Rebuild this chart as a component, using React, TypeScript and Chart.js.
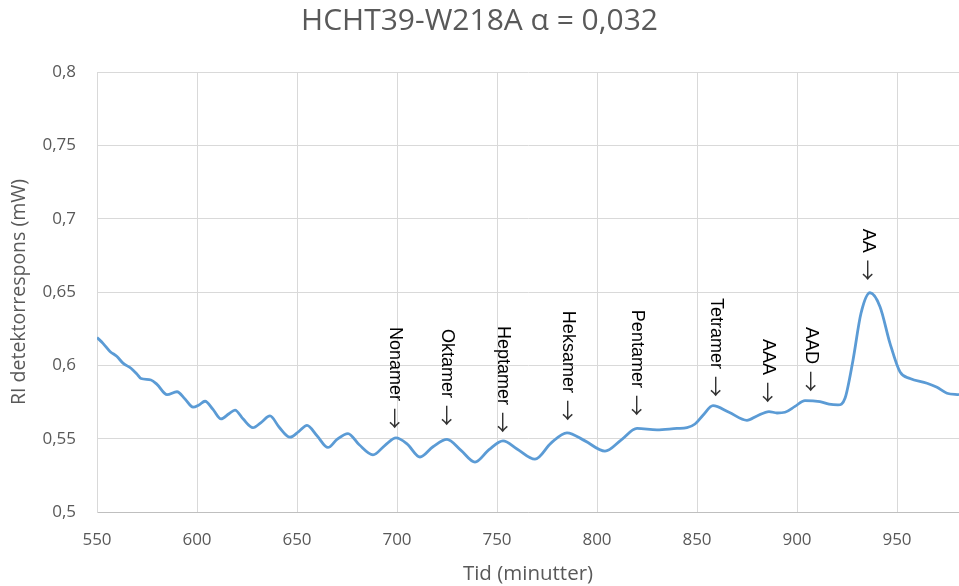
import React, { useEffect, useRef } from "react";
import { Chart, registerables } from "chart.js";

Chart.register(...registerables);

const timeMinutes = [
  550, 553, 556.5, 560, 563, 567, 570, 572, 577, 580, 585, 590, 594, 598, 601, 604, 608, 612, 616, 619,
  623, 628, 632, 636.5, 641, 646.5, 651, 655, 660, 665.5, 670, 675.5, 681, 688, 694, 699.5, 705, 711.5,
  718, 725, 732, 739, 746, 753, 760, 769, 777, 785, 794, 804, 812, 820, 830, 840, 845, 849, 853, 858,
  866, 875, 880, 886, 890, 894, 899, 904, 911.5, 916, 920.5, 924, 928, 932, 936.5, 941.5, 946.5, 951.5,
  956.5, 965, 970, 975, 981,
];

const riResponse = [
  0.619, 0.615, 0.6095, 0.606, 0.6015, 0.598, 0.594, 0.591, 0.59, 0.587, 0.58, 0.582, 0.577, 0.5715,
  0.573, 0.5755, 0.57, 0.5635, 0.567, 0.5695, 0.5635, 0.5575, 0.561, 0.5655, 0.558, 0.551, 0.555, 0.559,
  0.552, 0.544, 0.5495, 0.5535, 0.546, 0.539, 0.5455, 0.5505, 0.5465, 0.5375, 0.5445, 0.5495, 0.542,
  0.534, 0.5425, 0.5485, 0.543, 0.536, 0.547, 0.554, 0.5485, 0.5415, 0.549, 0.557, 0.556, 0.557, 0.5575,
  0.56, 0.566, 0.5725, 0.568, 0.5625, 0.5655, 0.5685, 0.5675, 0.568, 0.572, 0.576, 0.5752, 0.5735, 0.573,
  0.5775, 0.6035, 0.6355, 0.6495, 0.64, 0.615, 0.5955, 0.591, 0.5878, 0.585, 0.581, 0.58,
];

const peakNames = ["Nonamer", "Oktamer", "Heptamer", "Heksamer", "Pentamer", "Tetramer", "AAA", "AAD", "AA"];
const peakTimes = [699, 725, 753, 785.5, 820, 859.5, 885.5, 907, 935.5];
const peakArrowTips = [0.5573, 0.5593, 0.5546, 0.5628, 0.5662, 0.5791, 0.575, 0.5825, 0.6583];

const chartTitle = "HCHT39-W218A α = 0,032";
const xAxisTitle = "Tid (minutter)";
const yAxisTitle = "RI detektorrespons (mW)";
const arrowGlyph = "\u2192";

const UI_FONT = '"Open Sans", "Noto Sans", sans-serif';
const TEXT_GREY = "#595959";

const peakLabelPlugin = {
  id: "peakLabels",
  afterDatasetsDraw(chart: any) {
    const { ctx, scales } = chart;
    const xs = scales.x;
    const ys = scales.y;
    ctx.save();
    ctx.textBaseline = "middle";
    peakNames.forEach((name, i) => {
      const px = xs.getPixelForValue(peakTimes[i]);
      const py = ys.getPixelForValue(peakArrowTips[i]);
      ctx.save();
      ctx.translate(px, py);
      ctx.rotate(Math.PI / 2);
      ctx.textAlign = "right";
      ctx.fillStyle = "#000000";
      ctx.font = '18px "Liberation Sans", Arial, sans-serif';
      ctx.fillText(name, -27, 0);
      ctx.font = '21px "Noto Sans CJK JP", "DejaVu Sans", sans-serif';
      ctx.fillStyle = "#333333";
      ctx.fillText(arrowGlyph, 1, 0);
      ctx.restore();
    });
    ctx.restore();
  },
};

export default function App() {
  const canvasRef = useRef<HTMLCanvasElement | null>(null);

  useEffect(() => {
    const canvas = canvasRef.current;
    if (!canvas) return;
    const chart = new Chart(canvas, {
      type: "line",
      data: {
        datasets: [
          {
            data: timeMinutes.map((t, i) => ({ x: t, y: riResponse[i] })),
            borderColor: "#5B9BD5",
            borderWidth: 2.8,
            pointRadius: 0,
            fill: false,
            cubicInterpolationMode: "monotone",
          },
        ],
      },
      options: {
        responsive: false,
        animation: false,
        devicePixelRatio: 1,
        layout: { padding: 0 },
        plugins: {
          legend: { display: false },
          tooltip: { enabled: false },
          title: {
            display: true,
            text: chartTitle,
            color: TEXT_GREY,
            font: { family: UI_FONT, size: 30, weight: "normal" },
            padding: { top: 3, bottom: 33 },
          },
        },
        scales: {
          x: {
            type: "linear",
            min: 550,
            max: 981,
            grid: { color: "#D9D9D9", drawTicks: false },
            border: { color: "#BFBFBF", width: 1 },
            ticks: {
              stepSize: 50,
              includeBounds: false,
              padding: 18,
              color: TEXT_GREY,
              font: { family: UI_FONT, size: 17 },
              maxRotation: 0,
            },
            title: {
              display: true,
              text: xAxisTitle,
              color: TEXT_GREY,
              font: { family: UI_FONT, size: 20.5 },
              padding: { top: 0, bottom: 0 },
            },
            afterFit: (scale: any) => {
              scale.height = 74;
            },
          },
          y: {
            type: "linear",
            min: 0.5,
            max: 0.8,
            grid: { color: "#D9D9D9", drawTicks: false },
            border: { color: "#D9D9D9", width: 1 },
            ticks: {
              stepSize: 0.05,
              padding: 21,
              color: TEXT_GREY,
              font: { family: UI_FONT, size: 17 },
              callback: (v: any) => String(Math.round(Number(v) * 100) / 100).replace(".", ","),
            },
            title: {
              display: true,
              text: yAxisTitle,
              color: TEXT_GREY,
              font: { family: UI_FONT, size: 19.5 },
              padding: { top: 8, bottom: 0 },
            },
            afterFit: (scale: any) => {
              scale.width = 97;
            },
          },
        },
      },
      plugins: [peakLabelPlugin],
    } as any);
    return () => chart.destroy();
  }, []);

  return (
    <div style={{ position: "fixed", left: 0, top: 0, width: 959, height: 586, background: "#ffffff" }}>
      <canvas ref={canvasRef} width={959} height={586} style={{ display: "block" }} />
    </div>
  );
}
